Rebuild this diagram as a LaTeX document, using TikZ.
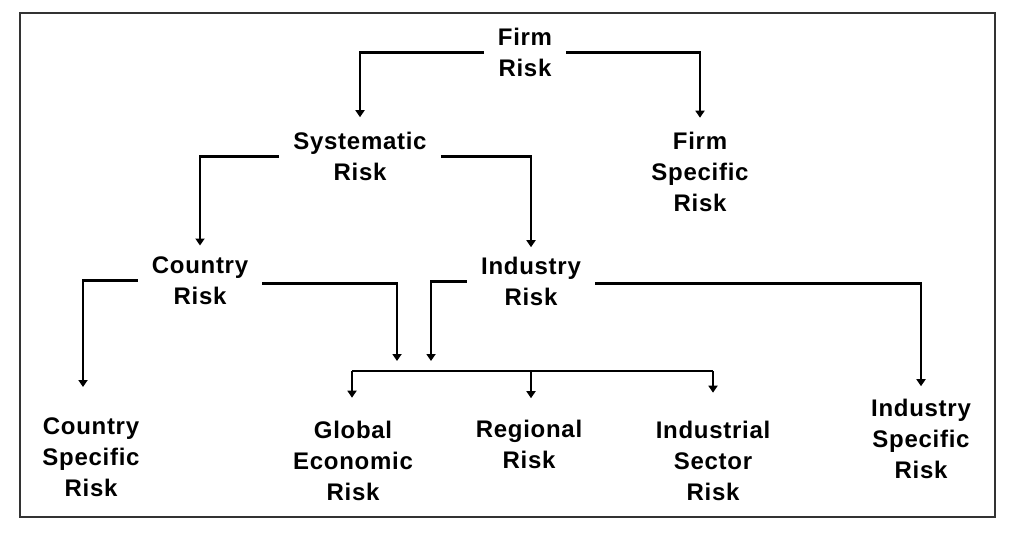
\documentclass[tikz,border=0pt]{standalone}
\usepackage{fontspec}
\setmainfont{Liberation Sans}[LetterSpace=3]
\usetikzlibrary{arrows.meta}
\tikzset{
  lbl/.style={align=center, inner xsep=14pt, inner ysep=4pt, anchor=center,
    font=\fontsize{24}{31}\selectfont\bfseries},
  conn/.style={line width=2.5pt},
  arr/.style={conn, -{Triangle[length=7pt,width=9pt]}},
  frame/.style={line width=1.8pt, draw=black!80}
}
\begin{document}
\begin{tikzpicture}[x=1pt,y=-1pt]
\fill[white] (0,0) rectangle (1024,542);
\useasboundingbox (0,0) rectangle (1024,542);
\draw[frame] (20,13) rectangle (995,517);

\node[lbl] (firm)  at (525,52.3)  {Firm\\Risk};
\node[lbl] (sys)   at (360,156.3) {Systematic\\Risk};
\node[lbl] (fspec) at (700,172.3) {Firm\\Specific\\Risk};
\node[lbl] (ctry)  at (200,280.3) {Country\\Risk};
\node[lbl] (ind)   at (531,281.3) {Industry\\Risk};
\node[lbl] (cspec) at (91,457.3)  {Country\\Specific\\Risk};
\node[lbl] (glob)  at (353,461.3) {Global\\Economic\\Risk};
\node[lbl] (reg)   at (529,444.3) {Regional\\Risk};
\node[lbl] (sec)   at (713,461.3) {Industrial\\Sector\\Risk};
\node[lbl] (ispec) at (921,438.8) {Industry\\Specific\\Risk};

\coordinate (bus) at (531,371);
\coordinate (cin) at (397,361);
\coordinate (iin) at (431,361);

\draw[arr] (firm.west) -| ([yshift=10.6pt]sys.north);
\draw[arr] (firm.east) -| ([yshift=10.6pt]fspec.north);
\draw[arr] (sys.west) -| ([yshift=6.6pt]ctry.north);
\draw[arr] (sys.east) -| ([yshift=5.6pt]ind.north);
\draw[arr] (ctry.west) -| ([xshift=-8pt,yshift=26.6pt]cspec.north);
\draw[arr] ([yshift=-3pt]ctry.east) -| (cin);
\draw[arr] (ind.west) -| (iin);
\draw[arr] ([yshift=-2pt]ind.east) -| ([yshift=8.6pt]ispec.north);

\draw[conn] ([xshift=-1pt]glob.north |- bus) -- (sec.north |- bus);
\draw[arr] ([xshift=-1pt]glob.north |- bus) -- ([xshift=-1pt,yshift=19.6pt]glob.north);
\draw[arr] ([xshift=2pt]reg.north |- bus) -- ([xshift=2pt,yshift=17.6pt]reg.north);
\draw[arr] (sec.north |- bus) -- ([yshift=24.6pt]sec.north);
\end{tikzpicture}
\end{document}
